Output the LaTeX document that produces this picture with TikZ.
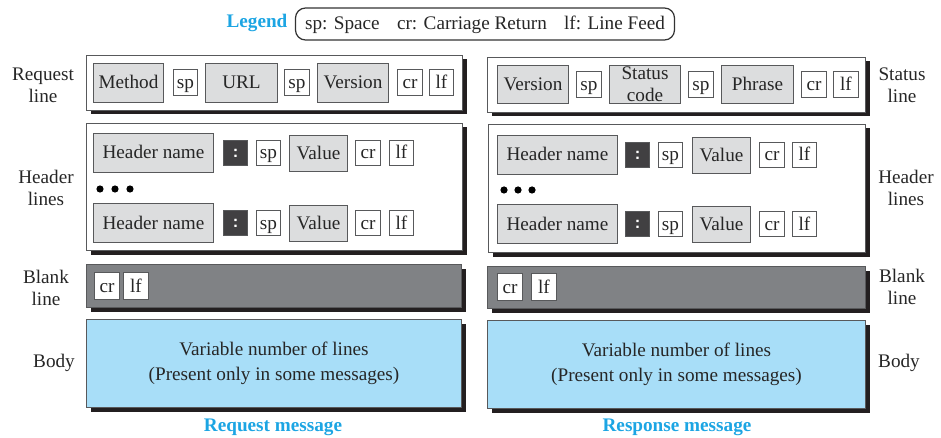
\documentclass[tikz,border=0pt]{standalone}
\usepackage{fontspec}
\setmainfont{Liberation Serif}
\usetikzlibrary{shadows}
\definecolor{fieldgray}{HTML}{DCDDDE}
\definecolor{darkbox}{HTML}{414042}
\definecolor{blankgray}{HTML}{808285}
\definecolor{bodyblue}{HTML}{A8DEF8}
\definecolor{legblue}{HTML}{1CA5E3}
\definecolor{edgegray}{HTML}{58595B}
\definecolor{shadowc}{HTML}{231F20}
\newcommand\bx[7]{\node[#1,anchor=north west,minimum width=#5*0.5pt,minimum height=#6*0.5pt] (#2) at (#3,#4) {#7};}
\begin{document}
\begin{tikzpicture}[x=0.5pt,y=-0.5pt,
  every node/.style={font=\fontsize{9.6}{11}\selectfont, inner sep=0pt, text=black!85},
  outer/.style={draw=edgegray, line width=0.5pt, drop shadow={shadow xshift=2pt, shadow yshift=-2pt, opacity=1, fill=shadowc}},
  linebox/.style={outer, fill=white},
  blankbox/.style={outer, fill=blankgray},
  bodybox/.style={outer, fill=bodyblue, align=center},
  onel/.style={text height=6.5pt, text depth=0.5pt},
  field2/.style={draw=edgegray, line width=0.5pt, fill=fieldgray, align=center},
  field/.style={field2, onel},
  tok/.style={draw=edgegray, line width=0.5pt, fill=white, onel},
  colonbox/.style={draw=edgegray, line width=0.5pt, fill=darkbox, text=white, font=\fontsize{9}{10}\selectfont\sffamily\bfseries},
  sidelabel/.style={align=center},
  bluetitle/.style={text=legblue, font=\fontsize{9.6}{11}\selectfont\bfseries},
  dot/.style={circle, fill=black, minimum size=3.6pt}]
\useasboundingbox (0,0) rectangle (941,438);

% Legend
\node[bluetitle] (legt) at (257,23) {Legend};
\node[draw=black!80, line width=0.6pt, rounded corners=5pt, minimum width=379*0.5pt, minimum height=32*0.5pt, onel] (leg) at (485,24) {sp: Space\hspace{0.9em}cr: Carriage Return\hspace{0.9em}lf: Line Feed};

% ---------- Request ----------
\bx{linebox}{rql}{86}{55}{376}{55}{}
\bx{field}{meth}{93}{63}{70}{39}{Method}
\bx{tok}{rsp1}{173}{69}{24}{26}{sp}
\bx{field}{url}{205}{63}{72}{39}{URL}
\bx{tok}{rsp2}{284}{69}{25}{26}{sp}
\bx{field}{rver}{317}{63}{71}{39}{Version}
\bx{tok}{rcr}{397}{69}{25}{26}{cr}
\bx{tok}{rlf}{429}{69}{24}{26}{lf}

\bx{linebox}{rhl}{86}{123}{376}{127}{}
\bx{field}{rhn1}{93}{133}{120}{39}{Header name}
\bx{colonbox}{rco1}{223}{140}{24}{25}{:}
\bx{tok}{rhsp1}{256}{140}{24}{25}{sp}
\bx{field}{rval1}{289}{135}{58}{36}{Value}
\bx{tok}{rhcr1}{355}{140}{25}{25}{cr}
\bx{tok}{rhlf1}{389}{140}{24}{25}{lf}
\node[dot] (rd1) at (100,189) {};
\node[dot] (rd2) at (115,189) {};
\node[dot] (rd3) at (130,189) {};
\bx{field}{rhn2}{93}{203}{120}{39}{Header name}
\bx{colonbox}{rco2}{223}{210}{24}{25}{:}
\bx{tok}{rhsp2}{256}{210}{24}{25}{sp}
\bx{field}{rval2}{289}{205}{58}{36}{Value}
\bx{tok}{rhcr2}{355}{210}{25}{25}{cr}
\bx{tok}{rhlf2}{389}{210}{24}{25}{lf}

\bx{blankbox}{rbl}{86}{264}{375}{43}{}
\bx{tok}{rbcr}{94}{272}{25}{27}{cr}
\bx{tok}{rblf}{123}{272}{25}{27}{lf}

\bx{bodybox}{rbody}{86}{319}{375}{88}{Variable number of lines\\[1.5pt](Present only in some messages)}
\node[bluetitle] (rtitle) at (273,427) {Request message};

% left labels
\node[sidelabel] (lrl) at (43,85) {Request\\line};
\node[sidelabel] (lhl) at (46,188) {Header\\lines};
\node[sidelabel] (lbl) at (46,288) {Blank\\line};
\node[sidelabel] (lbd) at (54,363) {Body};

% ---------- Response ----------
\bx{linebox}{sl}{487}{57}{378}{55}{}
\bx{field}{sver}{497}{65}{71}{38}{Version}
\bx{tok}{ssp1}{576}{71}{25}{26}{sp}
\bx{field2}{scode}{609}{65}{71}{38}{Status\\code}
\bx{tok}{ssp2}{688}{71}{25}{26}{sp}
\bx{field}{sphr}{721}{65}{72}{38}{Phrase}
\bx{tok}{scr}{801}{71}{25}{26}{cr}
\bx{tok}{slf}{833}{71}{25}{26}{lf}

\bx{linebox}{shl}{488}{124}{377}{128}{}
\bx{field}{shn1}{497}{135}{120}{39}{Header name}
\bx{colonbox}{sco1}{625}{142}{24}{25}{:}
\bx{tok}{shsp1}{658}{142}{24}{25}{sp}
\bx{field}{sval1}{692}{137}{58}{36}{Value}
\bx{tok}{shcr1}{759}{142}{25}{25}{cr}
\bx{tok}{shlf1}{792}{142}{24}{25}{lf}
\node[dot] (sd1) at (504,190) {};
\node[dot] (sd2) at (518,190) {};
\node[dot] (sd3) at (532,190) {};
\bx{field}{shn2}{497}{204}{120}{39}{Header name}
\bx{colonbox}{sco2}{625}{211}{24}{25}{:}
\bx{tok}{shsp2}{658}{211}{24}{25}{sp}
\bx{field}{sval2}{692}{206}{58}{36}{Value}
\bx{tok}{shcr2}{759}{211}{25}{25}{cr}
\bx{tok}{shlf2}{792}{211}{24}{25}{lf}

\bx{blankbox}{sbl}{487}{266}{378}{42}{}
\bx{tok}{sbcr}{497}{273}{25}{27}{cr}
\bx{tok}{sblf}{531}{273}{25}{27}{lf}

\bx{bodybox}{sbody}{487}{320}{378}{88}{Variable number of lines\\[1.5pt](Present only in some messages)}
\node[bluetitle] (stitle) at (677,427) {Response message};

% right labels
\node[sidelabel] (rsl) at (902,85) {Status\\line};
\node[sidelabel] (rhlab) at (906,188) {Header\\lines};
\node[sidelabel] (rblab) at (902,287) {Blank\\line};
\node[sidelabel] (rbdlab) at (899,363) {Body};
\end{tikzpicture}
\end{document}
